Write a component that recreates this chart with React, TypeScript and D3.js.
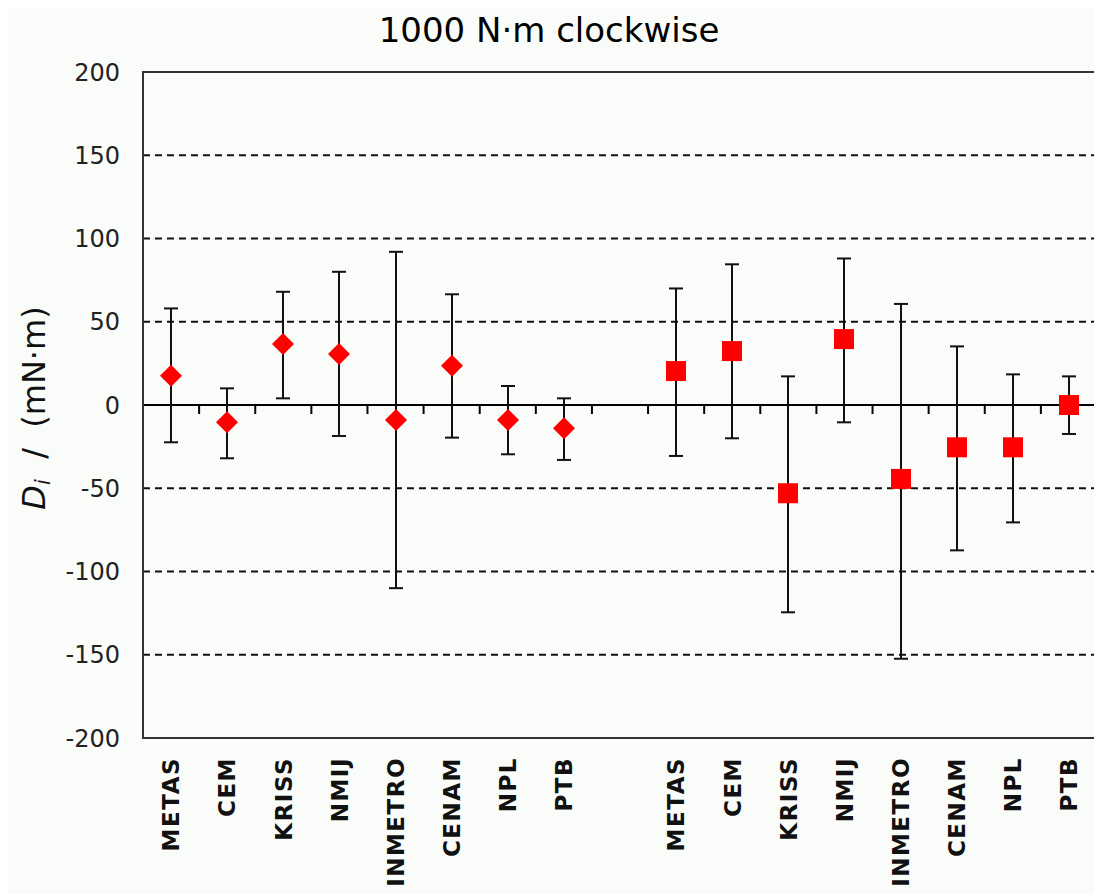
import React from "react";
import * as d3 from "d3";

const labsA = ["METAS", "CEM", "KRISS", "NMIJ", "INMETRO", "CENAM", "NPL", "PTB"];
const labsB = ["METAS", "CEM", "KRISS", "NMIJ", "INMETRO", "CENAM", "NPL", "PTB"];

const valA = [17.5, -10.4, 36.6, 30.6, -9, 23.6, -9, -14];
const upA = [58, 10, 68, 80, 92, 66.5, 11.4, 4];
const loA = [-22.4, -32, 4, -18.6, -110, -19.6, -29.6, -33];

const valB = [20.4, 32.4, -53, 39.6, -44.4, -25.4, -25.4, 0];
const upB = [70, 84.5, 17.2, 88, 60.7, 35.2, 18.4, 17.2];
const loB = [-30.6, -20, -124.5, -10.4, -152.4, -87.3, -70.5, -17.4];

const yTicks = [200, 150, 100, 50, 0, -50, -100, -150, -200];
const gridVals = [150, 100, 50, -50, -100, -150];

const W = 1094;
const H = 886;
const L = 135, R = 1089, T = 64, B = 730;

export default function App() {
  const keys = [
    ...labsA.map((d, i) => "a" + i),
    "gap",
    ...labsB.map((d, i) => "b" + i),
  ];
  const x = d3.scaleBand<string>().domain(keys).range([L, R]).padding(0);
  const y = d3.scaleLinear().domain([-200, 200]).range([B, T]);
  const bw = x.bandwidth();

  const ptsA = labsA.map((lab, i) => ({ key: "a" + i, lab, v: valA[i], u: upA[i], l: loA[i] }));
  const ptsB = labsB.map((lab, i) => ({ key: "b" + i, lab, v: valB[i], u: upB[i], l: loB[i] }));
  const all = [...ptsA, ...ptsB];
  const font = "'DejaVu Sans', Verdana, sans-serif";
  const cap = 7;
  const dia = 11;
  const sq = 20;

  return (
    <svg width={W} height={H} style={{ display: "block", background: "#fafcfa" }}>
      <text x={541} y={34} textAnchor="middle" fontFamily={font} fontSize={34} fill="#000">
        1000 N·m clockwise
      </text>
      {gridVals.map((g) => (
        <line key={g} x1={L} x2={R} y1={y(g)} y2={y(g)} stroke="#111" strokeWidth={2} strokeDasharray="7 5" />
      ))}
      {yTicks.map((t) => (
        <text key={t} x={112} y={y(t)} dy="0.36em" textAnchor="end" fontFamily={font} fontSize={24} fill="#222">
          {t}
        </text>
      ))}
      <text
        transform={`translate(37, ${y(0) + 3}) rotate(-90)`}
        textAnchor="middle"
        fontFamily={font}
        fontSize={32}
        fill="#111"
        xmlSpace="preserve"
      >
        <tspan fontStyle="italic">D</tspan>
        <tspan fontStyle="italic" fontSize={21} dy={5}>i</tspan>
        <tspan dy={-5}>{"  /  (mN·m)"}</tspan>
      </text>
      <line x1={L} x2={R} y1={y(0)} y2={y(0)} stroke="#000" strokeWidth={2} />
      {keys.slice(1).map((k) => (
        <line key={k} x1={x(k)} x2={x(k)} y1={y(0)} y2={y(0) + 9} stroke="#000" strokeWidth={2} />
      ))}
      {all.map((p) => {
        const cx = Math.round((x(p.key) as number) + bw / 2);
        return (
          <g key={p.key}>
            <line x1={cx} x2={cx} y1={y(p.u)} y2={y(p.l)} stroke="#111" strokeWidth={2} />
            <line x1={cx - cap} x2={cx + cap} y1={y(p.u)} y2={y(p.u)} stroke="#111" strokeWidth={2} />
            <line x1={cx - cap} x2={cx + cap} y1={y(p.l)} y2={y(p.l)} stroke="#111" strokeWidth={2} />
          </g>
        );
      })}
      {ptsA.map((p) => {
        const cx = Math.round((x(p.key) as number) + bw / 2);
        const cy = y(p.v);
        return (
          <path
            key={p.key}
            d={`M${cx},${cy - dia}L${cx + dia},${cy}L${cx},${cy + dia}L${cx - dia},${cy}Z`}
            fill="#ff0000"
          />
        );
      })}
      {ptsB.map((p) => {
        const cx = Math.round((x(p.key) as number) + bw / 2);
        const cy = y(p.v);
        return <rect key={p.key} x={cx - sq / 2} y={cy - sq / 2} width={sq} height={sq} fill="#ff0000" />;
      })}
      <rect x={L} y={T} width={R - L} height={B - T} fill="none" stroke="#333" strokeWidth={2} />
      {all.map((p) => {
        const cx = (x(p.key) as number) + bw / 2;
        return (
          <text
            key={"t" + p.key}
            transform={`translate(${cx}, ${B + 19}) rotate(-90)`}
            dy="0.36em"
            textAnchor="end"
            fontFamily={font}
            fontWeight="bold"
            fontSize={23}
            letterSpacing={1.5}
            fill="#111"
          >
            {p.lab}
          </text>
        );
      })}
    </svg>
  );
}
